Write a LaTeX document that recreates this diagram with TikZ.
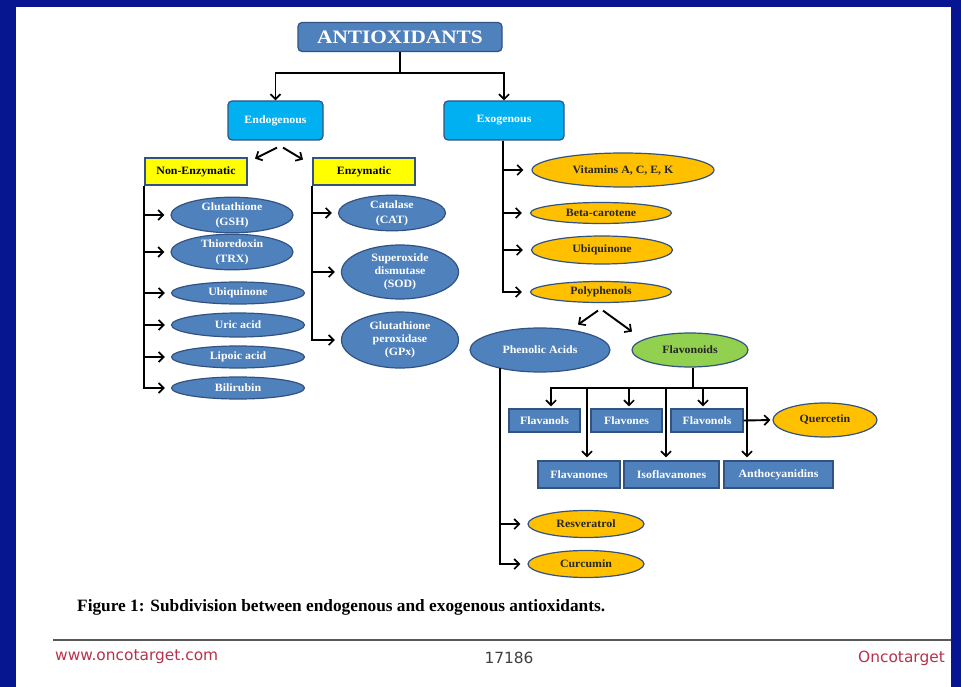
\documentclass[tikz,border=0pt]{standalone}
\usepackage{fontspec}
\setmainfont{Liberation Serif}
\newfontfamily\lblfont[FakeStretch=1.06]{Liberation Serif}
\newfontfamily\topfont[FakeStretch=1.12]{Liberation Serif}
\newfontfamily\footfont{DejaVu Sans}
\usetikzlibrary{shapes.geometric,arrows.meta,calc}
\definecolor{bgblue}{RGB}{6,22,145}
\definecolor{steel}{RGB}{79,129,189}
\definecolor{steeldark}{RGB}{50,82,130}
\definecolor{cyanbox}{RGB}{0,176,240}
\definecolor{yelbox}{RGB}{255,255,0}
\definecolor{orell}{RGB}{255,192,0}
\definecolor{greenell}{RGB}{146,208,80}
\definecolor{footred}{RGB}{185,50,75}
\begin{document}
\begin{tikzpicture}[x=1pt,y=-1pt,
  lbl/.style={font=\lblfont\bfseries\fontsize{11.2}{13}\selectfont, align=center, inner sep=0pt},
  twoline/.style={font=\lblfont\bfseries\fontsize{11.2}{15}\selectfont},
  arr/.style={draw=black, line width=1.9pt, -{Straight Barb[length=5pt,width=10pt,line width=1.7pt]}},
  plain/.style={draw=black, line width=1.9pt},
  rbox/.style={lbl, rectangle, rounded corners=4pt, draw=steeldark, line width=1.2pt},
  topbox/.style={rbox, fill=steel, text=white, minimum width=204pt, minimum height=29pt, font=\topfont\bfseries\fontsize{19}{22}\selectfont},
  cbox/.style={rbox, fill=cyanbox, text=white, minimum height=39pt},
  ybox/.style={lbl, rectangle, fill=yelbox, draw=steeldark, line width=1.2pt, minimum width=102pt, minimum height=27pt},
  sbox/.style={lbl, rectangle, fill=steel, draw=steeldark, line width=1.2pt, text=white},
  ell/.style={lbl, ellipse, draw=steeldark, line width=1.2pt},
  bell/.style={ell, fill=steel, text=white},
  oell/.style={ell, fill=orell, text=black!85},
  gell/.style={ell, fill=greenell, text=black!85}
]
\fill[bgblue] (0,0) rectangle (961,687);
\fill[white] (16,7) rectangle (951,687);
\useasboundingbox (0,0) rectangle (961,687);

% top levels
\node[topbox] (anti) at (400,37) {ANTIOXIDANTS};
\node[cbox, minimum width=95pt] (endo) at (275.5,120.5) {Endogenous};
\node[cbox, minimum width=120pt] (exo) at (504,120.5) {Exogenous};

% endogenous
\node[ybox] (nonenz) at (196,171.5) {Non-Enzymatic};
\node[ybox] (enz) at (364,171.5) {Enzymatic};

\node[bell, twoline, minimum width=122pt, minimum height=32pt] (gsh) at (232,215) {Glutathione\\(GSH)};
\node[bell, twoline, minimum width=122pt, minimum height=30pt] (trx) at (232,252) {Thioredoxin\\(TRX)};
\node[bell, minimum width=133pt, minimum height=22pt] (ubi1) at (238,293) {Ubiquinone};
\node[bell, minimum width=133pt, minimum height=24pt] (uric) at (238,325) {Uric acid};
\node[bell, minimum width=133pt, minimum height=22pt] (lipo) at (238,357) {Lipoic acid};
\node[bell, minimum width=133pt, minimum height=22pt] (bili) at (238,388) {Bilirubin};

\node[bell, twoline, minimum width=107pt, minimum height=31pt] (cat) at (392,213) {Catalase\\(CAT)};
\node[bell, minimum width=117pt, minimum height=54pt] (sod) at (400,272) {Superoxide\\dismutase\\(SOD)};
\node[bell, minimum width=117pt, minimum height=56pt] (gpx) at (400,340) {Glutathione\\peroxidase\\(GPx)};

% exogenous
\node[oell, minimum width=182pt, minimum height=34pt] (vit) at (623,170) {Vitamins A, C, E, K};
\node[oell, minimum width=141pt, minimum height=21pt] (beta) at (601,213) {Beta-carotene};
\node[oell, minimum width=141pt, minimum height=28pt] (ubi2) at (602,250) {Ubiquinone};
\node[oell, minimum width=141pt, minimum height=21pt] (poly) at (601,292) {Polyphenols};

\node[bell, minimum width=140pt, minimum height=44pt] (phen) at (540,350) {Phenolic Acids};
\node[gell, minimum width=116pt, minimum height=34pt] (flav) at (690,350) {Flavonoids};

\node[sbox, minimum width=71pt, minimum height=23pt] (flavanols) at (544.5,420.5) {Flavanols};
\node[sbox, minimum width=71pt, minimum height=23pt] (flavones) at (626.5,420.5) {Flavones};
\node[sbox, minimum width=72pt, minimum height=23pt] (flavonols) at (707,420.5) {Flavonols};
\node[oell, minimum width=104pt, minimum height=34pt] (quer) at (825,420) {Quercetin};

\node[sbox, minimum width=82pt, minimum height=27pt] (flavanones) at (579,474.5) {Flavanones};
\node[sbox, minimum width=95pt, minimum height=27pt] (isofl) at (671.5,474.5) {Isoflavanones};
\node[sbox, minimum width=109pt, minimum height=27pt] (antho) at (778.5,474.5) {Anthocyanidins};

\node[oell, minimum width=116pt, minimum height=27pt] (resv) at (586,524) {Resveratrol};
\node[oell, minimum width=116pt, minimum height=27pt] (curc) at (586,564) {Curcumin};

% connectors
\draw[arr] (anti.south) -- ++(0,21) -| (endo.north);
\draw[arr] (anti.south) -- ++(0,21) -| (exo.north);

\draw[arr] ([xshift=1.5pt,yshift=-7pt]endo.south) -- ([xshift=-20.5pt,yshift=-18pt]endo.south);
\draw[arr] ([xshift=7.5pt,yshift=-7pt]endo.south) -- ([xshift=27.5pt,yshift=-19pt]endo.south);

\foreach \t in {gsh,trx,ubi1,uric,lipo,bili}
  \draw[arr, shorten >=6pt] (nonenz.south west) |- (\t.west);
\foreach \t in {cat,sod,gpx}
  \draw[arr, shorten >=6pt] (enz.south west) |- (\t.west);

\foreach \t in {vit,beta,ubi2,poly}
  \draw[arr, shorten >=8pt] ([xshift=-1pt]exo.south) |- (\t.west);

\draw[arr] ([xshift=-3pt,yshift=-7.5pt]poly.south) -- ([xshift=-23pt,yshift=-21.5pt]poly.south);
\draw[arr] ([xshift=2pt,yshift=-7.5pt]poly.south) -- ([xshift=31pt,yshift=-28.5pt]poly.south);

\coordinate (bus) at ([xshift=3pt,yshift=-20pt]flav.south);
\draw[plain] ([xshift=3pt]flav.south) -- (bus);
\draw[arr, shorten >=2pt] (bus) -| ([xshift=6.5pt]flavanols.north);
\draw[arr, shorten >=2pt] (bus) -| ([xshift=2.5pt]flavones.north);
\draw[arr, shorten >=2pt] (bus) -| ([xshift=-4pt]flavonols.north);
\draw[arr, shorten >=3pt] (bus) -| ([xshift=8pt]flavanones.north);
\draw[arr, shorten >=3pt] (bus) -| ([xshift=-5.5pt]isofl.north);
\draw[arr, shorten >=3pt] (bus) -| ([xshift=-31.5pt]antho.north);
\draw[arr, shorten >=2pt] (flavonols.east) -- (quer.west);

\draw[arr, shorten >=7pt] ([xshift=-40pt,yshift=-18pt]phen.center) |- (resv.west);
\draw[arr, shorten >=7pt] ([xshift=-40pt,yshift=-18pt]phen.center) |- (curc.west);

% caption and footer
\node[anchor=west, inner sep=0pt, font=\bfseries\fontsize{17.3}{20}\selectfont] (cap) at (77,607) {Figure 1: Subdivision between endogenous and exogenous antioxidants.};
\draw[line width=2pt, black!65] (53,640) -- (951,640);
\node[anchor=west, inner sep=0pt, text=footred, font=\footfont\fontsize{15.4}{18}\selectfont] (url) at (55,657) {www.oncotarget.com};
\node[inner sep=0pt, text=black!75, font=\footfont\fontsize{15.4}{18}\selectfont] (pg) at (509,658) {17186};
\node[anchor=east, inner sep=0pt, text=footred, font=\footfont\fontsize{15.4}{18}\selectfont] (jr) at (945,658) {Oncotarget};
\end{tikzpicture}
\end{document}
